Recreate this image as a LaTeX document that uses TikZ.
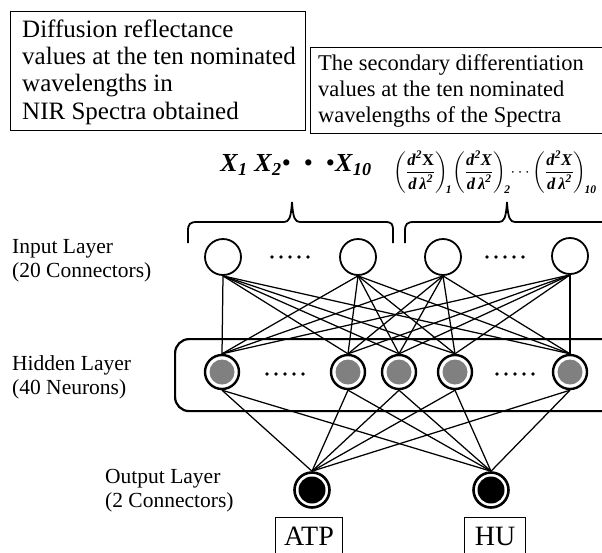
\RequirePackage{fix-cm}
\documentclass[tikz,border=0pt]{standalone}
\usepackage{amsmath}
\usepackage{fontspec}
\setmainfont{Liberation Serif}
\newcommand{\myBI}[1]{\textbf{\textit{#1}}}
\begin{document}
\begin{tikzpicture}[x=1pt,y=-1pt,
  boxA/.style={anchor=base west, inner sep=0pt, font=\fontsize{25}{27}\selectfont},
  boxB/.style={anchor=base west, inner sep=0pt, font=\fontsize{22.5}{25}\selectfont},
  lbl/.style={anchor=base west, inner sep=0pt, font=\fontsize{21.5}{24}\selectfont},
  frame/.style={draw, line width=1.3pt, anchor=north west, inner sep=0pt},
  inp/.style={circle, draw, line width=1.8pt, fill=white, minimum size=36pt, inner sep=0pt},
  hid/.style={circle, draw, line width=2.4pt, fill=white, minimum size=34pt, inner sep=0pt,
     path picture={\fill[black!50] (path picture bounding box.center) circle (12.5pt);}},
  outn/.style={circle, draw, line width=2.6pt, fill=white, minimum size=35pt, inner sep=0pt,
     path picture={\fill[black] (path picture bounding box.center) circle (13.5pt);}},
  conn/.style={line width=1.25pt},
  brace/.style={line width=1.8pt},
  res/.style={draw, line width=1.3pt, anchor=north west, inner sep=0pt}
]
\useasboundingbox (0,0) rectangle (602,552);
\clip (0,0) rectangle (602,552);

% top boxes
\node[frame, minimum width=295pt, minimum height=119pt] (box1) at (10,11) {};
\node[boxA] (t11) at (22,37) {Diffusion reflectance};
\node[boxA] (t12) at (22,64) {values at the ten nominated};
\node[boxA] (t13) at (22,91) {wavelengths in};
\node[boxA] (t14) at (22,119) {NIR Spectra obtained};

\node[frame, minimum width=310pt, minimum height=86pt] (box2) at (310,47) {};
\node[boxB] (t21) at (318,70) {The secondary differentiation};
\node[boxB] (t22) at (318,96) {values at the ten nominated};
\node[boxB] (t23) at (318,122) {wavelengths of the Spectra};

% input labels
\node[font=\fontsize{26}{26}\selectfont, inner sep=0pt] (xs) at (296,165)
  {$\myBI{X}_{\myBI{1}}\ \myBI{X}_{\myBI{2}}\textbullet\ \ \textbullet\ \ \textbullet\myBI{X}_{\myBI{10}}$};
\node[font=\fontsize{16.5}{16.5}\selectfont, inner sep=0pt] (ds) at (495,172)
  {$\displaystyle\left(\frac{\textbf{\textit{d}}^{\myBI{2}}\textbf{X}}{\myBI{d}\,\myBI{λ}^{\myBI{2}}}\right)_{\!\myBI{1}}\!
   \left(\frac{\myBI{d}^{\myBI{2}}\myBI{X}}{\myBI{d}\,\myBI{λ}^{\myBI{2}}}\right)_{\!\myBI{2}}\!
   \cdots
   \left(\frac{\myBI{d}^{\myBI{2}}\myBI{X}}{\myBI{d}\,\myBI{λ}^{\myBI{2}}}\right)_{\!\myBI{10}}$};

% braces
\draw[brace] (188,243) -- (188,231) .. controls (188,224) and (190,222) .. (197,222) -- (284,222)
  .. controls (289,222) and (291,218) .. (292,202) .. controls (293,218) and (295,222) .. (300,222)
  -- (385,222) .. controls (392,222) and (393,224) .. (393,231) -- (393,243);
\draw[brace] (405,243) -- (405,231) .. controls (405,224) and (407,222) .. (414,222) -- (499,222)
  .. controls (504,222) and (506,218) .. (507,202) .. controls (508,218) and (510,222) .. (515,222)
  -- (615,222);

% layer labels
\node[lbl] (l1a) at (12,253) {Input Layer};
\node[lbl] (l1b) at (12,277) {(20 Connectors)};
\node[lbl] (l2a) at (12,370) {Hidden Layer};
\node[lbl] (l2b) at (12,394) {(40 Neurons)};
\node[lbl] (l3a) at (105,483) {Output Layer};
\node[lbl] (l3b) at (105,507) {(2 Connectors)};

% hidden layer frame
\node[draw, rounded corners=14pt, line width=2.2pt, minimum width=476pt, minimum height=72pt,
      anchor=north west, inner sep=0pt] (hbox) at (174,338) {};

% nodes
\node[inp] (i1) at (223,257) {};
\node[inp] (i2) at (358,257) {};
\node[inp] (i3) at (443,257) {};
\node[inp] (i4) at (570,256) {};
\node[hid] (h1) at (222,372) {};
\node[hid] (h2) at (348,372) {};
\node[hid] (h3) at (399,372) {};
\node[hid] (h4) at (455,372) {};
\node[hid] (h5) at (570,372) {};
\node[outn] (o1) at (312,490) {};
\node[outn] (o2) at (491,490) {};

% connectors
\foreach \a in {i1,i2,i3,i4}
  \foreach \b in {h1,h2,h3,h4,h5}
    \draw[conn] (\a.south) -- (\b.north);
\foreach \a in {h1,h2,h3,h4,h5}
  \foreach \b in {o1,o2}
    \draw[conn] (\a.south) -- (\b.north);

% dots
\foreach \x in {272,281,290,299,308} \fill (\x,257) circle (1.8);
\foreach \x in {487,496,505,514,523} \fill (\x,257) circle (1.8);
\foreach \x in {267,276,285,294,303} \fill (\x,374) circle (1.8);
\foreach \x in {497,506,515,524,533} \fill (\x,374) circle (1.8);

% results
\node[res, minimum width=67pt, minimum height=45pt] (atp) at (275,517) {};
\node[font=\fontsize{28}{30}\selectfont, anchor=base, inner sep=0pt] (atpt) at (309,545) {ATP};
\node[res, minimum width=61pt, minimum height=45pt] (hu) at (464,517) {};
\node[font=\fontsize{28}{30}\selectfont, anchor=base, inner sep=0pt] (hut) at (495,545) {HU};
\end{tikzpicture}
\end{document}
